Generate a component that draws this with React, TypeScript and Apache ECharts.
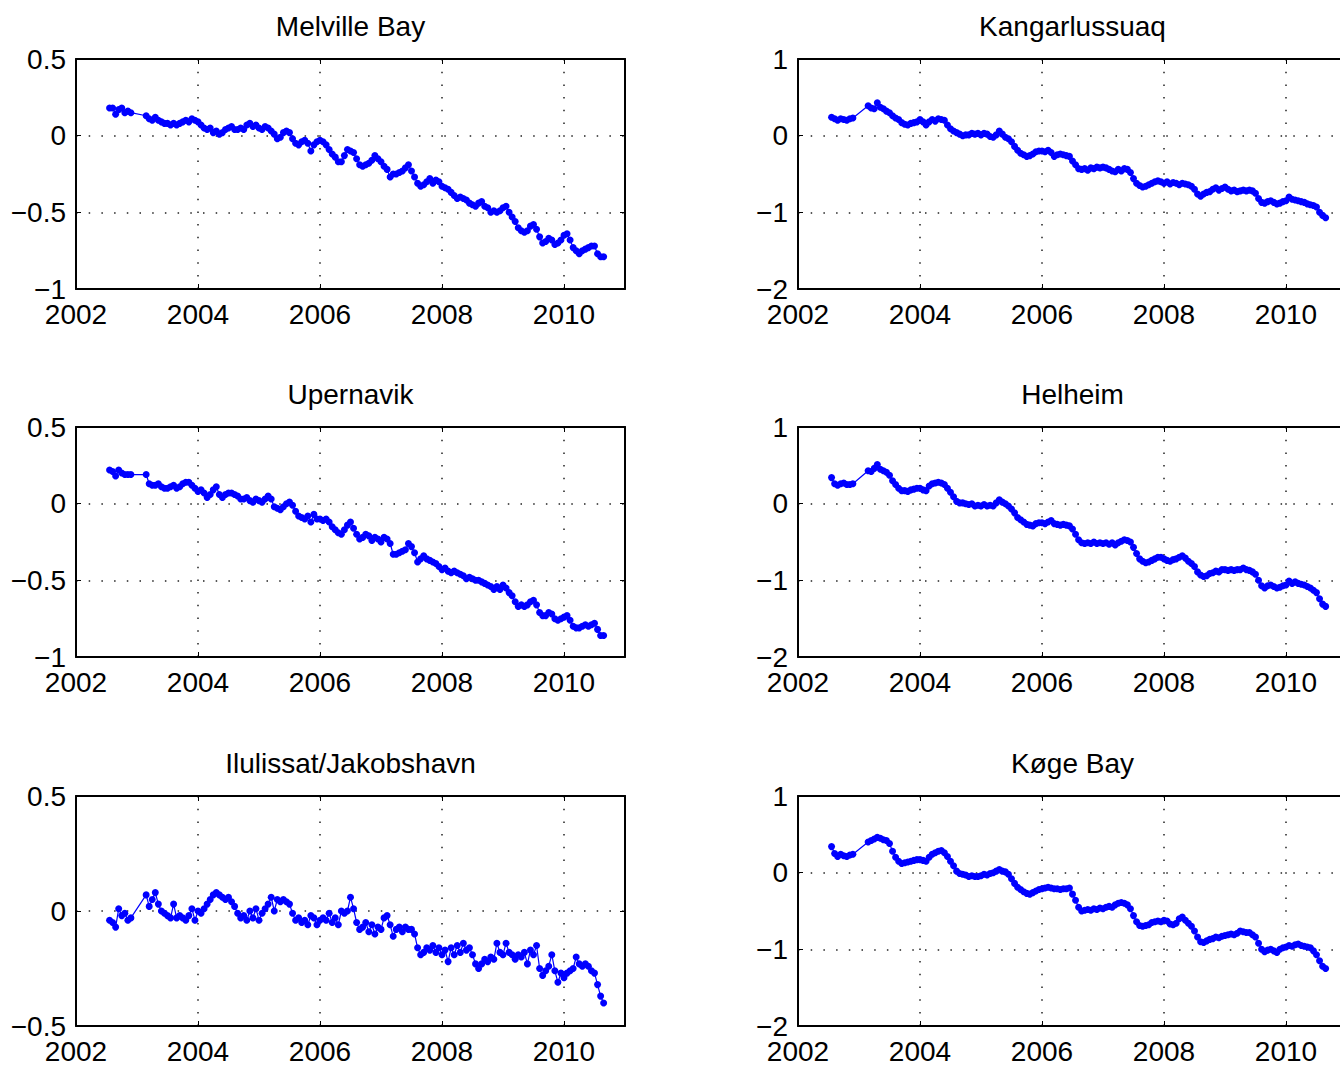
import React, { useEffect, useRef } from "react";
import * as echarts from "echarts";

// Sample times (decimal years); a data gap between late 2002 and early 2003
const TIMES = [
  2002.55, 2002.6, 2002.65, 2002.7, 2002.75, 2002.8, 2002.85, 2002.9,
  2003.15, 2003.2, 2003.25, 2003.3, 2003.35, 2003.4, 2003.45, 2003.5, 2003.55, 2003.6, 2003.65, 2003.7, 2003.75, 2003.8, 2003.85, 2003.9, 2003.95,
  2004.0, 2004.05, 2004.1, 2004.15, 2004.2, 2004.25, 2004.3, 2004.35, 2004.4, 2004.45, 2004.5, 2004.55, 2004.6, 2004.65, 2004.7, 2004.75, 2004.8, 2004.85, 2004.9, 2004.95,
  2005.0, 2005.05, 2005.1, 2005.15, 2005.2, 2005.25, 2005.3, 2005.35, 2005.4, 2005.45, 2005.5, 2005.55, 2005.6, 2005.65, 2005.7, 2005.75, 2005.8, 2005.85, 2005.9, 2005.95,
  2006.0, 2006.05, 2006.1, 2006.15, 2006.2, 2006.25, 2006.3, 2006.35, 2006.4, 2006.45, 2006.5, 2006.55, 2006.6, 2006.65, 2006.7, 2006.75, 2006.8, 2006.85, 2006.9, 2006.95,
  2007.0, 2007.05, 2007.1, 2007.15, 2007.2, 2007.25, 2007.3, 2007.35, 2007.4, 2007.45, 2007.5, 2007.55, 2007.6, 2007.65, 2007.7, 2007.75, 2007.8, 2007.85, 2007.9, 2007.95,
  2008.0, 2008.05, 2008.1, 2008.15, 2008.2, 2008.25, 2008.3, 2008.35, 2008.4, 2008.45, 2008.5, 2008.55, 2008.6, 2008.65, 2008.7, 2008.75, 2008.8, 2008.85, 2008.9, 2008.95,
  2009.0, 2009.05, 2009.1, 2009.15, 2009.2, 2009.25, 2009.3, 2009.35, 2009.4, 2009.45, 2009.5, 2009.55, 2009.6, 2009.65, 2009.7, 2009.75, 2009.8, 2009.85, 2009.9, 2009.95,
  2010.0, 2010.05, 2010.1, 2010.15, 2010.2, 2010.25, 2010.3, 2010.35, 2010.4, 2010.45, 2010.5, 2010.55, 2010.6, 2010.65,
];

const MELVILLE_BAY = [
  0.18, 0.18, 0.14, 0.17, 0.18, 0.15, 0.16, 0.15,
  0.13, 0.11, 0.10, 0.12, 0.10, 0.09, 0.08, 0.08, 0.07, 0.08, 0.07, 0.08, 0.09, 0.10, 0.09, 0.11, 0.10,
  0.09, 0.07, 0.05, 0.04, 0.05, 0.02, 0.03, 0.01, 0.02, 0.04, 0.05, 0.06, 0.04, 0.04, 0.05, 0.04, 0.07, 0.08, 0.06, 0.07,
  0.05, 0.04, 0.06, 0.05, 0.03, 0.01, -0.02, -0.01, 0.02, 0.03, 0.02, -0.02, -0.05, -0.06, -0.04, -0.03, -0.05, -0.10, -0.06, -0.04,
  -0.03, -0.04, -0.06, -0.09, -0.12, -0.14, -0.17, -0.17, -0.13, -0.09, -0.10, -0.11, -0.15, -0.19, -0.20, -0.19, -0.18, -0.16, -0.13, -0.15,
  -0.17, -0.20, -0.22, -0.27, -0.25, -0.25, -0.24, -0.23, -0.21, -0.19, -0.23, -0.27, -0.31, -0.33, -0.32, -0.30, -0.28, -0.31, -0.29, -0.30,
  -0.33, -0.34, -0.35, -0.37, -0.39, -0.41, -0.40, -0.41, -0.42, -0.44, -0.45, -0.46, -0.44, -0.43, -0.46, -0.47, -0.50, -0.49, -0.50, -0.49,
  -0.47, -0.46, -0.50, -0.53, -0.56, -0.60, -0.62, -0.63, -0.62, -0.59, -0.58, -0.61, -0.66, -0.70, -0.69, -0.67, -0.68, -0.71, -0.70, -0.68,
  -0.65, -0.64, -0.68, -0.73, -0.75, -0.77, -0.75, -0.74, -0.73, -0.72, -0.72, -0.77, -0.79, -0.79,
];

const KANGARLUSSUAQ = [
  0.24, 0.22, 0.20, 0.22, 0.21, 0.20, 0.22, 0.23,
  0.39, 0.36, 0.35, 0.43, 0.37, 0.35, 0.32, 0.30, 0.26, 0.23, 0.21, 0.17, 0.15, 0.14, 0.16, 0.17, 0.18,
  0.21, 0.18, 0.14, 0.18, 0.21, 0.19, 0.22, 0.21, 0.20, 0.14, 0.09, 0.06, 0.04, 0.02, 0.00, 0.01, 0.01, 0.03, 0.02, 0.03,
  0.01, 0.03, 0.02, -0.01, -0.02, 0.01, 0.06, 0.02, -0.02, -0.04, -0.08, -0.14, -0.19, -0.23, -0.25, -0.27, -0.26, -0.24, -0.21, -0.20,
  -0.20, -0.21, -0.19, -0.22, -0.27, -0.25, -0.24, -0.25, -0.26, -0.27, -0.33, -0.38, -0.43, -0.44, -0.43, -0.45, -0.42, -0.43, -0.41, -0.42,
  -0.41, -0.42, -0.44, -0.46, -0.47, -0.44, -0.46, -0.43, -0.44, -0.48, -0.56, -0.62, -0.65, -0.67, -0.66, -0.64, -0.62, -0.60, -0.59, -0.60,
  -0.62, -0.60, -0.63, -0.61, -0.62, -0.64, -0.62, -0.63, -0.64, -0.66, -0.70, -0.76, -0.79, -0.76, -0.74, -0.73, -0.70, -0.68, -0.71, -0.69,
  -0.67, -0.70, -0.72, -0.71, -0.73, -0.72, -0.71, -0.72, -0.71, -0.72, -0.75, -0.82, -0.87, -0.88, -0.86, -0.85, -0.87, -0.89, -0.88, -0.86,
  -0.85, -0.80, -0.83, -0.84, -0.85, -0.86, -0.87, -0.89, -0.90, -0.91, -0.93, -1.00, -1.04, -1.07,
];

const UPERNAVIK = [
  0.22, 0.21, 0.18, 0.22, 0.20, 0.19, 0.19, 0.19,
  0.19, 0.13, 0.12, 0.12, 0.13, 0.11, 0.10, 0.10, 0.11, 0.12, 0.10, 0.11, 0.13, 0.14, 0.14, 0.12, 0.10,
  0.08, 0.09, 0.07, 0.04, 0.06, 0.09, 0.11, 0.06, 0.04, 0.06, 0.07, 0.07, 0.06, 0.05, 0.03, 0.03, 0.04, 0.02, 0.01, 0.03,
  0.02, 0.01, 0.03, 0.05, 0.03, -0.02, -0.03, -0.04, -0.02, 0.00, 0.01, -0.01, -0.05, -0.08, -0.09, -0.10, -0.08, -0.12, -0.07, -0.10,
  -0.10, -0.11, -0.10, -0.12, -0.15, -0.17, -0.19, -0.20, -0.17, -0.14, -0.12, -0.16, -0.20, -0.23, -0.22, -0.20, -0.21, -0.24, -0.22, -0.23,
  -0.25, -0.22, -0.23, -0.26, -0.33, -0.33, -0.32, -0.31, -0.30, -0.26, -0.28, -0.32, -0.38, -0.36, -0.34, -0.36, -0.37, -0.38, -0.39, -0.41,
  -0.43, -0.42, -0.44, -0.45, -0.44, -0.45, -0.46, -0.47, -0.49, -0.48, -0.49, -0.50, -0.50, -0.51, -0.52, -0.53, -0.54, -0.56, -0.54, -0.56,
  -0.53, -0.55, -0.58, -0.60, -0.64, -0.67, -0.66, -0.67, -0.66, -0.64, -0.63, -0.66, -0.71, -0.73, -0.73, -0.71, -0.72, -0.75, -0.76, -0.75,
  -0.74, -0.73, -0.76, -0.80, -0.81, -0.81, -0.80, -0.79, -0.80, -0.79, -0.78, -0.82, -0.86, -0.86,
];

const HELHEIM = [
  0.34, 0.26, 0.24, 0.26, 0.27, 0.25, 0.25, 0.26,
  0.43, 0.42, 0.46, 0.51, 0.45, 0.43, 0.41, 0.37, 0.30, 0.25, 0.20, 0.17, 0.17, 0.16, 0.18, 0.19, 0.20,
  0.20, 0.18, 0.17, 0.23, 0.26, 0.27, 0.28, 0.27, 0.25, 0.20, 0.15, 0.09, 0.03, 0.01, 0.01, 0.00, -0.01, 0.00, -0.03, -0.02,
  -0.03, -0.01, -0.03, -0.02, -0.03, 0.01, 0.05, 0.02, 0.00, -0.03, -0.07, -0.12, -0.18, -0.21, -0.24, -0.27, -0.28, -0.29, -0.26, -0.25,
  -0.25, -0.26, -0.24, -0.22, -0.26, -0.27, -0.28, -0.27, -0.28, -0.29, -0.33, -0.40, -0.47, -0.51, -0.52, -0.51, -0.52, -0.50, -0.52, -0.51,
  -0.52, -0.51, -0.53, -0.51, -0.54, -0.51, -0.49, -0.47, -0.48, -0.50, -0.57, -0.65, -0.72, -0.75, -0.77, -0.76, -0.74, -0.72, -0.70, -0.70,
  -0.72, -0.74, -0.75, -0.73, -0.72, -0.70, -0.68, -0.71, -0.75, -0.78, -0.82, -0.89, -0.93, -0.95, -0.94, -0.91, -0.90, -0.88, -0.89, -0.86,
  -0.86, -0.87, -0.86, -0.87, -0.86, -0.86, -0.84, -0.86, -0.87, -0.89, -0.92, -1.00, -1.07, -1.10, -1.07, -1.06, -1.08, -1.10, -1.09, -1.07,
  -1.06, -1.01, -1.04, -1.02, -1.04, -1.05, -1.06, -1.08, -1.10, -1.13, -1.16, -1.24, -1.31, -1.34,
];

const ILULISSAT = [
  -0.04, -0.05, -0.07, 0.01, -0.02, -0.01, -0.04, -0.03,
  0.07, 0.02, 0.05, 0.08, 0.03, 0.00, -0.01, -0.02, -0.03, 0.03, -0.03, -0.02, -0.03, -0.04, -0.02, 0.01, -0.04,
  0.00, -0.01, 0.01, 0.03, 0.05, 0.07, 0.08, 0.07, 0.06, 0.05, 0.06, 0.04, 0.02, -0.01, -0.03, -0.02, -0.04, 0.00, -0.03, 0.01,
  -0.04, -0.01, 0.01, 0.03, 0.06, 0.00, 0.05, 0.04, 0.05, 0.04, 0.03, -0.01, -0.04, -0.03, -0.05, -0.04, -0.06, -0.02, -0.03, -0.06,
  -0.04, -0.03, -0.04, -0.01, -0.05, -0.03, -0.06, 0.00, -0.01, 0.00, 0.06, 0.01, -0.05, -0.08, -0.07, -0.05, -0.09, -0.06, -0.10, -0.07,
  -0.08, -0.03, -0.02, -0.06, -0.11, -0.08, -0.07, -0.09, -0.07, -0.08, -0.08, -0.10, -0.16, -0.19, -0.18, -0.16, -0.17, -0.15, -0.18, -0.16,
  -0.19, -0.17, -0.22, -0.16, -0.19, -0.15, -0.18, -0.14, -0.17, -0.16, -0.19, -0.23, -0.25, -0.23, -0.21, -0.22, -0.20, -0.21, -0.14, -0.18,
  -0.19, -0.14, -0.18, -0.19, -0.21, -0.19, -0.20, -0.18, -0.23, -0.17, -0.19, -0.15, -0.25, -0.28, -0.26, -0.24, -0.19, -0.26, -0.31, -0.27,
  -0.29, -0.27, -0.26, -0.25, -0.20, -0.23, -0.24, -0.23, -0.24, -0.26, -0.27, -0.32, -0.37, -0.40,
];

const KOGE_BAY = [
  0.34, 0.25, 0.21, 0.24, 0.22, 0.21, 0.23, 0.24,
  0.40, 0.42, 0.44, 0.46, 0.45, 0.43, 0.42, 0.38, 0.28, 0.20, 0.15, 0.12, 0.13, 0.14, 0.15, 0.16, 0.17,
  0.17, 0.16, 0.15, 0.20, 0.24, 0.26, 0.28, 0.29, 0.26, 0.21, 0.15, 0.09, 0.02, -0.01, -0.02, -0.03, -0.05, -0.04, -0.05, -0.05,
  -0.04, -0.02, -0.03, -0.01, 0.00, 0.02, 0.04, 0.02, 0.01, -0.02, -0.08, -0.14, -0.19, -0.22, -0.25, -0.27, -0.28, -0.26, -0.24, -0.22,
  -0.21, -0.20, -0.19, -0.20, -0.21, -0.21, -0.22, -0.21, -0.21, -0.20, -0.28, -0.36, -0.45, -0.50, -0.49, -0.48, -0.49, -0.47, -0.48, -0.46,
  -0.47, -0.45, -0.44, -0.45, -0.42, -0.40, -0.39, -0.40, -0.42, -0.47, -0.56, -0.64, -0.69, -0.70, -0.69, -0.68, -0.65, -0.64, -0.63, -0.64,
  -0.62, -0.63, -0.67, -0.68, -0.66, -0.60, -0.58, -0.62, -0.66, -0.70, -0.76, -0.84, -0.90, -0.91, -0.89, -0.87, -0.86, -0.84, -0.85, -0.83,
  -0.82, -0.81, -0.80, -0.81, -0.79, -0.76, -0.77, -0.78, -0.78, -0.81, -0.84, -0.92, -1.00, -1.03, -1.01, -1.00, -1.02, -1.04, -1.00, -0.98,
  -0.97, -0.95, -0.96, -0.94, -0.93, -0.95, -0.96, -0.97, -0.98, -1.02, -1.07, -1.15, -1.22, -1.25,
];

const TITLES = ["Melville Bay", "Kangarlussuaq", "Upernavik", "Helheim", "Ilulissat/Jakobshavn", "Køge Bay"];
const SERIES_VALUES = [MELVILLE_BAY, KANGARLUSSUAQ, UPERNAVIK, HELHEIM, ILULISSAT, KOGE_BAY];
// y-axis ranges: [min, max, interval]
const Y_RANGES: [number, number, number][] = [
  [-1, 0.5, 0.5],
  [-2, 1, 1],
  [-1, 0.5, 0.5],
  [-2, 1, 1],
  [-0.5, 0.5, 0.5],
  [-2, 1, 1],
];
const X_RANGE: [number, number, number] = [2002, 2011, 2];

const FONT = '"Liberation Sans", Arial, Helvetica, sans-serif';
const COL_LEFT = [76, 798];
const ROW_TOP = [59, 427, 796];
const PLOT_W = 549;
const PLOT_H = 230;
const FONT_SIZE = 28;

function fmtY(v: number): string {
  if (Math.abs(v) < 1e-9) return "0";
  return v < 0 ? "\u2212" + String(Math.abs(v)) : String(v);
}

export default function App() {
  const ref = useRef<HTMLDivElement>(null);
  useEffect(() => {
    if (!ref.current) return;
    const chart = echarts.init(ref.current, null, { renderer: "svg" });
    const grids: any[] = [];
    const xAxes: any[] = [];
    const yAxes: any[] = [];
    const series: any[] = [];
    const graphics: any[] = [];
    const axisLine = { show: true, onZero: false, lineStyle: { color: "#000", width: 2 } };
    const axisTick = { show: true, inside: true, length: 5, lineStyle: { color: "#000", width: 1 } };
    const splitLine = { show: true, lineStyle: { color: "#222", width: 1.5, type: [1.5, 11.2] } };
    SERIES_VALUES.forEach((vals, i) => {
      const col = i % 2;
      const row = Math.floor(i / 2);
      const left = COL_LEFT[col];
      const top = ROW_TOP[row];
      grids.push({ left, top, width: PLOT_W, height: PLOT_H, show: false });
      const [xmin, xmax, xint] = X_RANGE;
      const [ymin, ymax, yint] = Y_RANGES[i];
      xAxes.push({
        type: "value", gridIndex: i, position: "bottom", min: xmin, max: xmax, interval: xint,
        axisLine, axisTick, splitLine,
        axisLabel: {
          show: true, showMaxLabel: false, color: "#000", fontSize: FONT_SIZE, fontFamily: FONT,
          margin: 25, verticalAlign: "middle", lineHeight: 22,
          formatter: (v: number) => (v > 2010.5 ? "" : String(v)),
        },
      });
      xAxes.push({
        type: "value", gridIndex: i, position: "top", min: xmin, max: xmax, interval: xint,
        axisLine, axisTick, splitLine: { show: false }, axisLabel: { show: false },
      });
      yAxes.push({
        type: "value", gridIndex: i, position: "left", min: ymin, max: ymax, interval: yint,
        axisLine, axisTick, splitLine,
        axisLabel: {
          show: true, color: "#000", fontSize: FONT_SIZE, fontFamily: FONT, margin: 10, lineHeight: 22,
          formatter: (v: number) => fmtY(v),
        },
      });
      yAxes.push({
        type: "value", gridIndex: i, position: "right", min: ymin, max: ymax, interval: yint,
        axisLine, axisTick, splitLine: { show: false }, axisLabel: { show: false },
      });
      series.push({
        type: "line",
        xAxisIndex: 2 * i,
        yAxisIndex: 2 * i,
        data: TIMES.map((t, k) => [t, vals[k]]),
        symbol: "circle",
        symbolSize: 7,
        showSymbol: true,
        showAllSymbol: true,
        lineStyle: { color: "#0000ff", width: 1.2 },
        itemStyle: { color: "#0000ff" },
        clip: false,
      });
      graphics.push({
        type: "text",
        x: left + PLOT_W / 2,
        y: top - 32.5,
        style: {
          text: TITLES[i],
          fill: "#000",
          fontSize: FONT_SIZE,
          fontFamily: FONT,
          align: "center",
          verticalAlign: "middle",
        },
      });
    });
    chart.setOption({
      animation: false,
      backgroundColor: "#fff",
      grid: grids,
      xAxis: xAxes,
      yAxis: yAxes,
      series,
      graphic: graphics,
    });
    return () => chart.dispose();
  }, []);
  return (
    <div style={{ position: "absolute", left: 0, top: 0, width: 1340, height: 1065, overflow: "hidden", background: "#fff" }}>
      <div ref={ref} style={{ position: "absolute", left: 0, top: 0, width: 1370, height: 1065 }} />
    </div>
  );
}
